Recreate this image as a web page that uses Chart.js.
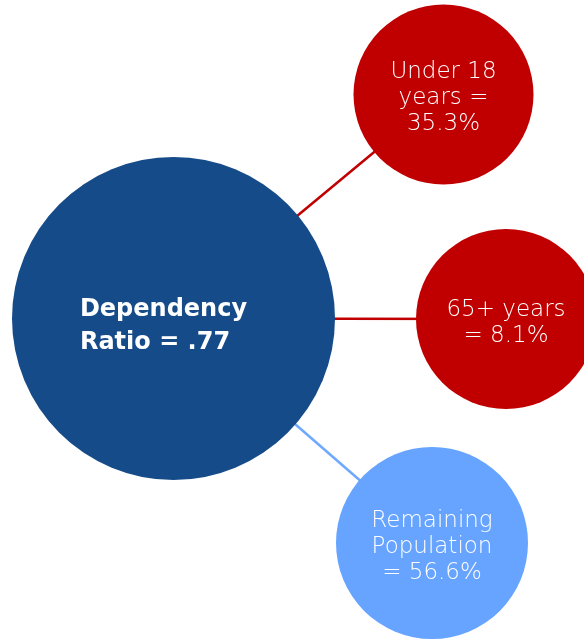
<!DOCTYPE html>
<html>
<head>
<meta charset="utf-8">
<script src="https://cdn.jsdelivr.net/npm/chart.js@4.4.1/dist/chart.umd.min.js"></script>
<style>
  html, body { margin: 0; padding: 0; background: #ffffff; }
  #wrap { width: 584px; height: 639px; position: relative; }
</style>
</head>
<body>
<div id="wrap"><canvas id="myChart"></canvas></div>
<script>
// data
const labels = ['Dependency Ratio', 'Under 18 years', '65+ years', 'Remaining Population']
const shares = [0.77, 35.3, 8.1, 56.6]
const textLines = [
    ['Dependency', 'Ratio = .77'],
    ['Under 18', 'years =', '35.3%'],
    ['65+ years', '= 8.1%'],
    ['Remaining', 'Population', '= 56.6%']
]

// layout of the bubbles (chart units, one unit = one pixel)
const posX = [173.5, 443.5, 506, 432]
const posY = [318.5, 94.5, 319, 543]
const radii = [161.5, 90, 90, 96]
const fills = ['#154b89', '#c00000', '#c00000', '#67a4ff']
const linkColors = [null, '#c00000', '#c00000', '#6ea8ff']

const bubbles = labels.map((l, i) => ({ x: posX[i], y: posY[i], r: radii[i] }))

const links = []
for (let i = 1; i < labels.length; i++) {
    links.push({
        type: 'line',
        label: 'link ' + labels[i],
        data: [{ x: posX[0], y: posY[0] }, { x: posX[i], y: posY[i] }],
        borderColor: linkColors[i],
        borderWidth: 2.5,
        pointRadius: 0,
        fill: false,
        order: 2,
        clip: false
    })
}

const bubbleText = {
    id: 'bubbleText',
    afterDatasetsDraw(chart) {
        const ctx = chart.ctx
        const meta = chart.getDatasetMeta(0)
        meta.data.forEach((pt, i) => {
            const lines = textLines[i]
            ctx.save()
            ctx.fillStyle = '#ffffff'
            ctx.textBaseline = 'middle'
            if (i === 0) {
                ctx.font = 'bold 24px "DejaVu Sans"'
                const w = Math.max(...lines.map(t => ctx.measureText(t).width))
                ctx.textAlign = 'left'
                const left = pt.x - w / 2 - 10
                const lh = 33
                const top = pt.y + 8 - (lines.length - 1) * lh / 2
                lines.forEach((t, k) => ctx.fillText(t, left, top + k * lh))
            } else {
                ctx.font = '300 23px "DejaVu Sans"'
                ctx.textAlign = 'center'
                const lh = 26
                const top = pt.y + 4 - (lines.length - 1) * lh / 2
                lines.forEach((t, k) => ctx.fillText(t, pt.x, top + k * lh))
            }
            ctx.restore()
        })
    }
}

const ctx = document.getElementById('myChart').getContext('2d')
const myChart = new Chart(ctx, {
    type: 'bubble',
    data: {
        labels: labels,
        datasets: [{
            label: 'Share of population',
            data: bubbles,
            backgroundColor: fills,
            borderWidth: 0,
            hoverRadius: 0,
            hoverBorderWidth: 0,
            order: 1,
            clip: false
        }].concat(links)
    },
    options: {
        responsive: true,
        maintainAspectRatio: false,
        animation: false,
        events: [],
        layout: { padding: 0, autoPadding: false },
        scales: {
            x: { type: 'linear', min: 0, max: 584, display: false },
            y: { type: 'linear', min: 0, max: 639, reverse: true, display: false }
        },
        plugins: {
            legend: { display: false },
            tooltip: { enabled: false }
        }
    },
    plugins: [bubbleText]
})
</script>
</body>
</html>
